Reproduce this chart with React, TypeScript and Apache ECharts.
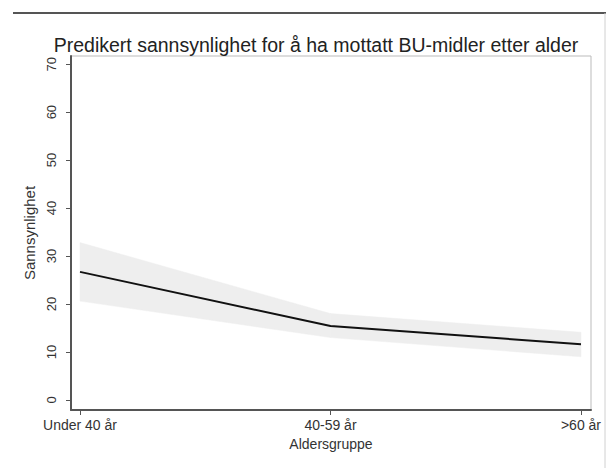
import React, { useEffect, useRef } from "react";
import * as echarts from "echarts";

const categories = ["Under 40 år", "40-59 år", ">60 år"];
const predicted = [26.7, 15.4, 11.6];
const ciLower = [20.6, 13.0, 9.0];
const ciUpper = [32.8, 18.0, 14.1];
const yTicks = [0, 10, 20, 30, 40, 50, 60, 70];
const xTicks = [0, 1, 2];

const titleText = "Predikert sannsynlighet for å ha mottatt BU-midler etter alder";
const yName = "Sannsynlighet";
const xName = "Aldersgruppe";

export default function App() {
  const ref = useRef<HTMLDivElement>(null);
  useEffect(() => {
    document.body.style.margin = "0";
    if (!ref.current) return;
    const chart = echarts.init(ref.current, null, { renderer: "svg" });
    const font = "Liberation Sans, Arial, sans-serif";
    const bandData = xTicks.map((x, i) => [x, ciLower[i], ciUpper[i]]);
    const lineData = xTicks.map((x, i) => [x, predicted[i]]);
    chart.setOption({
      animation: false,
      backgroundColor: "#ffffff",
      textStyle: { fontFamily: font },
      graphic: [
        {
          type: "line",
          shape: { x1: 13, y1: 13, x2: 606, y2: 13 },
          style: { stroke: "#555", lineWidth: 2 },
        },
        {
          type: "line",
          shape: { x1: 605, y1: 13, x2: 605, y2: 468 },
          style: { stroke: "#d0d0d0", lineWidth: 1 },
        },
        {
          type: "text",
          x: 316,
          y: 45,
          style: {
            text: titleText,
            fontSize: 19.5,
            fontFamily: font,
            fill: "#222",
            textAlign: "center",
            textVerticalAlign: "middle",
          },
        },
      ],
      grid: {
        left: 71,
        right: 15,
        top: 56,
        bottom: 58,
        show: true,
        borderColor: "#bbbbbb",
        borderWidth: 1,
        backgroundColor: "transparent",
      },
      xAxis: {
        type: "value",
        min: -0.036,
        max: 2.04,
        name: xName,
        nameLocation: "middle",
        nameGap: 26,
        nameTextStyle: { fontSize: 14, color: "#333", fontFamily: font },
        splitLine: { show: false },
        axisLine: { show: true, onZero: false, lineStyle: { color: "#555", width: 2 } },
        axisTick: { show: true, length: 5, customValues: xTicks, lineStyle: { color: "#555" } },
        axisLabel: {
          customValues: xTicks,
          formatter: (v: number) => categories[Math.round(v)] ?? "",
          fontSize: 14,
          color: "#333",
          margin: 8,
          fontFamily: font,
        },
      },
      yAxis: {
        type: "value",
        min: -2.1,
        max: 71.7,
        name: yName,
        nameLocation: "middle",
        nameGap: 32,
        nameTextStyle: { fontSize: 15, color: "#333", fontFamily: font },
        splitLine: { show: false },
        axisLine: { show: true, onZero: false, lineStyle: { color: "#555", width: 2 } },
        axisTick: { show: true, length: 5, customValues: yTicks, lineStyle: { color: "#555" } },
        axisLabel: {
          customValues: yTicks,
          rotate: 90,
          fontSize: 13,
          color: "#333",
          margin: 13,
          fontFamily: font,
        },
      },
      series: [
        {
          type: "custom",
          data: bandData,
          silent: true,
          z: 1,
          renderItem: (params: any, api: any) => {
            const i = params.dataIndex;
            if (i >= bandData.length - 1) return null;
            const p0l = api.coord([bandData[i][0], bandData[i][1]]);
            const p0u = api.coord([bandData[i][0], bandData[i][2]]);
            const p1l = api.coord([bandData[i + 1][0], bandData[i + 1][1]]);
            const p1u = api.coord([bandData[i + 1][0], bandData[i + 1][2]]);
            return {
              type: "polygon",
              shape: { points: [p0u, p1u, p1l, p0l] },
              style: { fill: "#eeeeee", stroke: "#eeeeee", lineWidth: 0.5 },
            };
          },
        },
        {
          type: "line",
          data: lineData,
          symbol: "none",
          lineStyle: { color: "#111", width: 2 },
          z: 5,
        },
      ],
    });
    return () => chart.dispose();
  }, []);
  return <div ref={ref} style={{ width: 606, height: 468 }} />;
}
